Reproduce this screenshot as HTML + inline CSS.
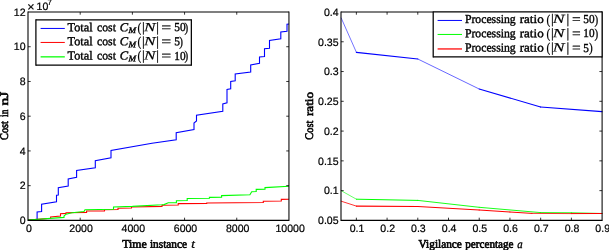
<!DOCTYPE html>
<html><head><meta charset="utf-8"><title>plot</title>
<style>html,body{margin:0;padding:0;background:#fff}svg{display:block}.t{font-family:"Liberation Sans",sans-serif;font-size:10px;fill:#000;stroke:#000;stroke-width:.2px}.s{font-family:"Liberation Serif",serif;font-size:11.6px;fill:#000;stroke:#000;stroke-width:.6px}.g{font-size:12.2px;stroke-width:.38px}text{text-rendering:geometricPrecision}.i{font-style:italic}.v{stroke-width:.35px}.n{stroke-width:.15px;font-size:12.5px}.p{font-size:13.5px;stroke-width:.25px}.e{font-size:14px;stroke-width:.2px}</style></head><body>
<svg width="609" height="250" viewBox="0 0 609 250">
<rect width="609" height="250" fill="#fff"/>
<polyline fill="none" stroke="#0000ff" stroke-width="1.1" stroke-linejoin="miter" points="28.0,220.0 37.1,220.0 37.1,212.0 41.6,211.6 41.6,204.3 56.5,201.7 56.5,195.3 58.3,195.0 58.3,187.6 68.2,186.0 68.2,179.0 76.6,177.3 76.6,170.5 95.3,167.8 95.3,160.8 111.0,157.8 111.0,150.5 152.0,143.3 176.2,139.8 176.2,132.8 194.0,129.5 194.0,123.0 196.5,121.0 196.5,115.3 222.8,111.3 222.8,104.0 227.0,102.8 227.0,89.5 230.7,88.8 230.7,81.5 235.2,80.8 235.2,74.0 250.7,72.0 250.7,65.0 259.5,63.3 259.5,57.0 264.5,56.5 264.5,48.8 269.5,48.3 269.5,40.5 280.8,38.8 280.8,32.0 287.0,31.3 287.0,24.3 289.0,24.0"/>
<polyline fill="none" stroke="#ff0000" stroke-width="1.1" stroke-linejoin="miter" points="28.0,220.0 50.6,218.2 50.6,216.9 60.5,216.0 60.5,213.8 66.0,213.4 66.0,212.8 86.6,212.4 86.6,211.0 104.5,210.9 104.5,209.7 118.0,209.5 118.0,208.2 131.5,208.0 131.5,207.0 162.0,206.4 162.0,205.2 178.2,205.0 178.2,203.6 206.7,203.5 206.7,203.0 235.5,202.7 263.3,202.5 263.3,201.2 281.3,201.0 281.3,199.4 289.0,199.2"/>
<polyline fill="none" stroke="#00ff00" stroke-width="1.1" stroke-linejoin="miter" points="28.0,220.0 64.0,217.4 64.0,216.0 66.0,214.2 72.0,212.8 84.0,211.5 85.0,209.7 113.5,209.2 113.5,207.0 132.4,206.4 162.0,204.8 164.0,204.6 168.3,202.8 176.4,202.6 176.4,200.7 187.2,200.5 187.2,198.5 209.4,198.3 209.4,197.4 221.6,197.2 221.6,195.6 249.9,194.7 251.7,191.7 256.2,191.5 256.2,189.4 265.0,189.2 265.0,187.6 289.0,186.2"/>
<line x1="28.00" y1="11.46" x2="28.00" y2="220.96" stroke="#000" stroke-width="1.08" /><line x1="288.95" y1="11.46" x2="288.95" y2="220.96" stroke="#000" stroke-width="1.05" /><line x1="28.00" y1="12.00" x2="288.95" y2="12.00" stroke="#000" stroke-width="1.08" /><line x1="28.00" y1="220.40" x2="288.95" y2="220.40" stroke="#000" stroke-width="1.12" />
<text class="t" transform="translate(28.9,231.8) scale(1.055,1.07)" text-anchor="middle">0</text>
<line x1="80.19" y1="220.40" x2="80.19" y2="217.70" stroke="#000" stroke-width="0.8" />
<line x1="80.19" y1="12.00" x2="80.19" y2="14.70" stroke="#000" stroke-width="0.8" />
<text class="t" transform="translate(81.1,231.8) scale(1.055,1.07)" text-anchor="middle">2000</text>
<line x1="132.38" y1="220.40" x2="132.38" y2="217.70" stroke="#000" stroke-width="0.8" />
<line x1="132.38" y1="12.00" x2="132.38" y2="14.70" stroke="#000" stroke-width="0.8" />
<text class="t" transform="translate(133.3,231.8) scale(1.055,1.07)" text-anchor="middle">4000</text>
<line x1="184.57" y1="220.40" x2="184.57" y2="217.70" stroke="#000" stroke-width="0.8" />
<line x1="184.57" y1="12.00" x2="184.57" y2="14.70" stroke="#000" stroke-width="0.8" />
<text class="t" transform="translate(185.5,231.8) scale(1.055,1.07)" text-anchor="middle">6000</text>
<line x1="236.76" y1="220.40" x2="236.76" y2="217.70" stroke="#000" stroke-width="0.8" />
<line x1="236.76" y1="12.00" x2="236.76" y2="14.70" stroke="#000" stroke-width="0.8" />
<text class="t" transform="translate(237.7,231.8) scale(1.055,1.07)" text-anchor="middle">8000</text>
<text class="t" transform="translate(290.1,231.8) scale(1.055,1.07)" text-anchor="middle">10000</text>
<text class="t" transform="translate(25.5,224.0) scale(1.055,1.07)" text-anchor="end">0</text>
<line x1="28.00" y1="185.67" x2="30.70" y2="185.67" stroke="#000" stroke-width="0.8" />
<line x1="288.95" y1="185.67" x2="286.25" y2="185.67" stroke="#000" stroke-width="0.8" />
<text class="t" transform="translate(25.5,189.3) scale(1.055,1.07)" text-anchor="end">2</text>
<line x1="28.00" y1="150.93" x2="30.70" y2="150.93" stroke="#000" stroke-width="0.8" />
<line x1="288.95" y1="150.93" x2="286.25" y2="150.93" stroke="#000" stroke-width="0.8" />
<text class="t" transform="translate(25.5,154.5) scale(1.055,1.07)" text-anchor="end">4</text>
<line x1="28.00" y1="116.20" x2="30.70" y2="116.20" stroke="#000" stroke-width="0.8" />
<line x1="288.95" y1="116.20" x2="286.25" y2="116.20" stroke="#000" stroke-width="0.8" />
<text class="t" transform="translate(25.5,119.8) scale(1.055,1.07)" text-anchor="end">6</text>
<line x1="28.00" y1="81.47" x2="30.70" y2="81.47" stroke="#000" stroke-width="0.8" />
<line x1="288.95" y1="81.47" x2="286.25" y2="81.47" stroke="#000" stroke-width="0.8" />
<text class="t" transform="translate(25.5,85.1) scale(1.055,1.07)" text-anchor="end">8</text>
<line x1="28.00" y1="46.73" x2="30.70" y2="46.73" stroke="#000" stroke-width="0.8" />
<line x1="288.95" y1="46.73" x2="286.25" y2="46.73" stroke="#000" stroke-width="0.8" />
<text class="t" transform="translate(25.5,50.3) scale(1.055,1.07)" text-anchor="end">10</text>
<text class="t" transform="translate(25.5,15.6) scale(1.055,1.07)" text-anchor="end">12</text>
<text class="t" x="27.3" y="10.7" style="font-size:12.5px">×</text>
<text class="t" transform="translate(36.6,9.7) scale(1.055,1.07)">10</text>
<text class="t" transform="translate(47.5,4.6) scale(1.055,1.07)" style="font-size:7.5px">7</text>
<text class="s" transform="translate(122.20,247.65) rotate(0.03)" textLength="24.6" lengthAdjust="spacingAndGlyphs" >Time</text>
<text class="s" transform="translate(149.90,247.65) rotate(0.03)" textLength="37.2" lengthAdjust="spacingAndGlyphs" >instance</text>
<text class="s i v" transform="translate(191.30,247.65) rotate(0.03)" textLength="3.6" lengthAdjust="spacingAndGlyphs" >t</text>
<text class="s" transform="translate(8.4,140.0) rotate(-90)" textLength="19.0" lengthAdjust="spacingAndGlyphs">Cost</text>
<text class="s" transform="translate(8.4,117.0) rotate(-90)" textLength="7.4" lengthAdjust="spacingAndGlyphs">in</text>
<text class="s" transform="translate(8.4,105.4) rotate(-90)" textLength="13.8" lengthAdjust="spacingAndGlyphs">nJ</text>
<rect x="36" y="20" width="155.3" height="45" fill="#fff"/>
<line x1="35.90" y1="19.27" x2="35.90" y2="65.72" stroke="#000" stroke-width="1.25" /><line x1="191.35" y1="19.27" x2="191.35" y2="65.72" stroke="#000" stroke-width="1.25" /><line x1="35.90" y1="19.90" x2="191.35" y2="19.90" stroke="#000" stroke-width="1.25" /><line x1="35.90" y1="65.10" x2="191.35" y2="65.10" stroke="#000" stroke-width="1.25" />
<line x1="40.60" y1="28.45" x2="64.80" y2="28.45" stroke="#0000ff" stroke-width="1.0" />
<text class="s g" transform="translate(67.60,31.20) rotate(0.03)" textLength="25.0" lengthAdjust="spacingAndGlyphs" >Total</text>
<text class="s g" transform="translate(97.00,31.20) rotate(0.03)" textLength="18.9" lengthAdjust="spacingAndGlyphs" >cost</text>
<text class="s g i" transform="translate(119.80,31.20) rotate(0.03)" textLength="8.4" lengthAdjust="spacingAndGlyphs" >C</text>
<text class="s g i" transform="translate(128.60,33.00) rotate(0.03)" textLength="7.6" lengthAdjust="spacingAndGlyphs" style="font-size:8.5px">M</text>
<text class="s g p" transform="translate(137.40,31.70) rotate(0.03)" textLength="3.7" lengthAdjust="spacingAndGlyphs" >(</text>
<text class="s g p" transform="translate(141.90,31.50) rotate(0.03)" >|</text>
<text class="s g i n" transform="translate(144.10,31.20) rotate(0.03)" textLength="11.6" lengthAdjust="spacingAndGlyphs" >N</text>
<text class="s g p" transform="translate(156.30,31.50) rotate(0.03)" >|</text>
<text class="s g e" transform="translate(161.30,31.90) rotate(0.03)" textLength="10.0" lengthAdjust="spacingAndGlyphs" >=</text>
<text class="s g" transform="translate(174.30,31.20) rotate(0.03)" textLength="11.3" lengthAdjust="spacingAndGlyphs" >50</text>
<text class="s g p" transform="translate(184.60,31.70) rotate(0.03)" textLength="3.7" lengthAdjust="spacingAndGlyphs" >)</text>
<line x1="40.60" y1="42.45" x2="64.80" y2="42.45" stroke="#ff0000" stroke-width="1.0" />
<text class="s g" transform="translate(67.60,45.35) rotate(0.03)" textLength="25.0" lengthAdjust="spacingAndGlyphs" >Total</text>
<text class="s g" transform="translate(97.00,45.35) rotate(0.03)" textLength="18.9" lengthAdjust="spacingAndGlyphs" >cost</text>
<text class="s g i" transform="translate(119.80,45.35) rotate(0.03)" textLength="8.4" lengthAdjust="spacingAndGlyphs" >C</text>
<text class="s g i" transform="translate(128.60,47.15) rotate(0.03)" textLength="7.6" lengthAdjust="spacingAndGlyphs" style="font-size:8.5px">M</text>
<text class="s g p" transform="translate(137.40,45.85) rotate(0.03)" textLength="3.7" lengthAdjust="spacingAndGlyphs" >(</text>
<text class="s g p" transform="translate(141.90,45.65) rotate(0.03)" >|</text>
<text class="s g i n" transform="translate(144.10,45.35) rotate(0.03)" textLength="11.6" lengthAdjust="spacingAndGlyphs" >N</text>
<text class="s g p" transform="translate(156.30,45.65) rotate(0.03)" >|</text>
<text class="s g e" transform="translate(161.30,46.05) rotate(0.03)" textLength="10.0" lengthAdjust="spacingAndGlyphs" >=</text>
<text class="s g" transform="translate(174.30,45.35) rotate(0.03)" textLength="5.7" lengthAdjust="spacingAndGlyphs" >5</text>
<text class="s g p" transform="translate(179.25,45.85) rotate(0.03)" textLength="3.7" lengthAdjust="spacingAndGlyphs" >)</text>
<line x1="40.60" y1="56.85" x2="64.80" y2="56.85" stroke="#00ff00" stroke-width="1.25" />
<text class="s g" transform="translate(67.60,59.50) rotate(0.03)" textLength="25.0" lengthAdjust="spacingAndGlyphs" >Total</text>
<text class="s g" transform="translate(97.00,59.50) rotate(0.03)" textLength="18.9" lengthAdjust="spacingAndGlyphs" >cost</text>
<text class="s g i" transform="translate(119.80,59.50) rotate(0.03)" textLength="8.4" lengthAdjust="spacingAndGlyphs" >C</text>
<text class="s g i" transform="translate(128.60,61.30) rotate(0.03)" textLength="7.6" lengthAdjust="spacingAndGlyphs" style="font-size:8.5px">M</text>
<text class="s g p" transform="translate(137.40,60.00) rotate(0.03)" textLength="3.7" lengthAdjust="spacingAndGlyphs" >(</text>
<text class="s g p" transform="translate(141.90,59.80) rotate(0.03)" >|</text>
<text class="s g i n" transform="translate(144.10,59.50) rotate(0.03)" textLength="11.6" lengthAdjust="spacingAndGlyphs" >N</text>
<text class="s g p" transform="translate(156.30,59.80) rotate(0.03)" >|</text>
<text class="s g e" transform="translate(161.30,60.20) rotate(0.03)" textLength="10.0" lengthAdjust="spacingAndGlyphs" >=</text>
<text class="s g" transform="translate(174.30,59.50) rotate(0.03)" textLength="11.3" lengthAdjust="spacingAndGlyphs" >10</text>
<text class="s g p" transform="translate(184.60,60.00) rotate(0.03)" textLength="3.7" lengthAdjust="spacingAndGlyphs" >)</text>
<line x1="341.2" y1="18.0" x2="356.4" y2="52.3" stroke="#0000ff" stroke-width="0.55" stroke-linecap="round"/>
<line x1="356.4" y1="52.3" x2="417.8" y2="59.0" stroke="#0000ff" stroke-width="1.2" stroke-linecap="round"/>
<line x1="417.8" y1="59.0" x2="479.2" y2="89.0" stroke="#0000ff" stroke-width="0.6" stroke-linecap="round"/>
<line x1="479.2" y1="89.0" x2="540.6" y2="107.0" stroke="#0000ff" stroke-width="1.1" stroke-linecap="round"/>
<line x1="540.6" y1="107.0" x2="602.0" y2="111.6" stroke="#0000ff" stroke-width="1.2" stroke-linecap="round"/>
<line x1="341.2" y1="190.7" x2="356.4" y2="199.2" stroke="#00ff00" stroke-width="0.6" stroke-linecap="round"/>
<line x1="356.4" y1="199.2" x2="417.8" y2="200.4" stroke="#00ff00" stroke-width="1.0" stroke-linecap="round"/>
<line x1="417.8" y1="200.4" x2="479.2" y2="207.3" stroke="#00ff00" stroke-width="0.9" stroke-linecap="round"/>
<line x1="479.2" y1="207.3" x2="540.6" y2="212.6" stroke="#00ff00" stroke-width="0.9" stroke-linecap="round"/>
<line x1="540.6" y1="212.6" x2="571.3" y2="212.8" stroke="#00ff00" stroke-width="0.9" stroke-linecap="round"/>
<line x1="571.3" y1="212.8" x2="602.0" y2="213.5" stroke="#00ff00" stroke-width="0.9" stroke-linecap="round"/>
<line x1="341.2" y1="201.2" x2="356.4" y2="206.1" stroke="#ff0000" stroke-width="0.8" stroke-linecap="round"/>
<line x1="356.4" y1="206.1" x2="417.8" y2="206.5" stroke="#ff0000" stroke-width="1.1" stroke-linecap="round"/>
<line x1="417.8" y1="206.5" x2="479.2" y2="210.0" stroke="#ff0000" stroke-width="1.1" stroke-linecap="round"/>
<line x1="479.2" y1="210.0" x2="509.9" y2="212.0" stroke="#ff0000" stroke-width="1.1" stroke-linecap="round"/>
<line x1="509.9" y1="212.0" x2="532.0" y2="213.4" stroke="#ff0000" stroke-width="1.0" stroke-linecap="round"/>
<line x1="532.0" y1="213.4" x2="571.3" y2="213.6" stroke="#ff0000" stroke-width="0.8" stroke-linecap="round"/>
<line x1="571.3" y1="213.6" x2="602.0" y2="213.5" stroke="#ff0000" stroke-width="1.0" stroke-linecap="round"/>
<line x1="341.00" y1="11.46" x2="341.00" y2="220.96" stroke="#000" stroke-width="1.08" /><line x1="602.10" y1="11.46" x2="602.10" y2="220.96" stroke="#000" stroke-width="1.05" /><line x1="341.00" y1="12.00" x2="602.10" y2="12.00" stroke="#000" stroke-width="1.08" /><line x1="341.00" y1="220.40" x2="602.10" y2="220.40" stroke="#000" stroke-width="1.12" />
<line x1="356.36" y1="220.40" x2="356.36" y2="217.70" stroke="#000" stroke-width="0.8" />
<line x1="356.36" y1="12.00" x2="356.36" y2="14.70" stroke="#000" stroke-width="0.8" />
<text class="t" transform="translate(357.0,231.8) scale(1.055,1.07)" text-anchor="middle">0.1</text>
<line x1="387.08" y1="220.40" x2="387.08" y2="217.70" stroke="#000" stroke-width="0.8" />
<line x1="387.08" y1="12.00" x2="387.08" y2="14.70" stroke="#000" stroke-width="0.8" />
<text class="t" transform="translate(387.7,231.8) scale(1.055,1.07)" text-anchor="middle">0.2</text>
<line x1="417.79" y1="220.40" x2="417.79" y2="217.70" stroke="#000" stroke-width="0.8" />
<line x1="417.79" y1="12.00" x2="417.79" y2="14.70" stroke="#000" stroke-width="0.8" />
<text class="t" transform="translate(418.4,231.8) scale(1.055,1.07)" text-anchor="middle">0.3</text>
<line x1="448.51" y1="220.40" x2="448.51" y2="217.70" stroke="#000" stroke-width="0.8" />
<line x1="448.51" y1="12.00" x2="448.51" y2="14.70" stroke="#000" stroke-width="0.8" />
<text class="t" transform="translate(449.1,231.8) scale(1.055,1.07)" text-anchor="middle">0.4</text>
<line x1="479.23" y1="220.40" x2="479.23" y2="217.70" stroke="#000" stroke-width="0.8" />
<line x1="479.23" y1="12.00" x2="479.23" y2="14.70" stroke="#000" stroke-width="0.8" />
<text class="t" transform="translate(479.8,231.8) scale(1.055,1.07)" text-anchor="middle">0.5</text>
<line x1="509.95" y1="220.40" x2="509.95" y2="217.70" stroke="#000" stroke-width="0.8" />
<line x1="509.95" y1="12.00" x2="509.95" y2="14.70" stroke="#000" stroke-width="0.8" />
<text class="t" transform="translate(510.5,231.8) scale(1.055,1.07)" text-anchor="middle">0.6</text>
<line x1="540.66" y1="220.40" x2="540.66" y2="217.70" stroke="#000" stroke-width="0.8" />
<line x1="540.66" y1="12.00" x2="540.66" y2="14.70" stroke="#000" stroke-width="0.8" />
<text class="t" transform="translate(541.3,231.8) scale(1.055,1.07)" text-anchor="middle">0.7</text>
<line x1="571.38" y1="220.40" x2="571.38" y2="217.70" stroke="#000" stroke-width="0.8" />
<line x1="571.38" y1="12.00" x2="571.38" y2="14.70" stroke="#000" stroke-width="0.8" />
<text class="t" transform="translate(572.0,231.8) scale(1.055,1.07)" text-anchor="middle">0.8</text>
<text class="t" transform="translate(602.7,231.8) scale(1.055,1.07)" text-anchor="middle">0.9</text>
<text class="t" transform="translate(338.6,224.1) scale(1.055,1.07)" text-anchor="end">0.05</text>
<line x1="341.00" y1="190.63" x2="343.70" y2="190.63" stroke="#000" stroke-width="0.8" />
<line x1="602.10" y1="190.63" x2="599.40" y2="190.63" stroke="#000" stroke-width="0.8" />
<text class="t" transform="translate(338.6,194.3) scale(1.055,1.07)" text-anchor="end">0.1</text>
<line x1="341.00" y1="160.86" x2="343.70" y2="160.86" stroke="#000" stroke-width="0.8" />
<line x1="602.10" y1="160.86" x2="599.40" y2="160.86" stroke="#000" stroke-width="0.8" />
<text class="t" transform="translate(338.6,164.6) scale(1.055,1.07)" text-anchor="end">0.15</text>
<line x1="341.00" y1="131.09" x2="343.70" y2="131.09" stroke="#000" stroke-width="0.8" />
<line x1="602.10" y1="131.09" x2="599.40" y2="131.09" stroke="#000" stroke-width="0.8" />
<text class="t" transform="translate(338.6,134.8) scale(1.055,1.07)" text-anchor="end">0.2</text>
<line x1="341.00" y1="101.31" x2="343.70" y2="101.31" stroke="#000" stroke-width="0.8" />
<line x1="602.10" y1="101.31" x2="599.40" y2="101.31" stroke="#000" stroke-width="0.8" />
<text class="t" transform="translate(338.6,105.0) scale(1.055,1.07)" text-anchor="end">0.25</text>
<line x1="341.00" y1="71.54" x2="343.70" y2="71.54" stroke="#000" stroke-width="0.8" />
<line x1="602.10" y1="71.54" x2="599.40" y2="71.54" stroke="#000" stroke-width="0.8" />
<text class="t" transform="translate(338.6,75.2) scale(1.055,1.07)" text-anchor="end">0.3</text>
<line x1="341.00" y1="41.77" x2="343.70" y2="41.77" stroke="#000" stroke-width="0.8" />
<line x1="602.10" y1="41.77" x2="599.40" y2="41.77" stroke="#000" stroke-width="0.8" />
<text class="t" transform="translate(338.6,45.5) scale(1.055,1.07)" text-anchor="end">0.35</text>
<text class="t" transform="translate(338.6,15.7) scale(1.055,1.07)" text-anchor="end">0.4</text>
<text class="s" transform="translate(418.60,247.65) rotate(0.03)" textLength="43.3" lengthAdjust="spacingAndGlyphs" >Vigilance</text>
<text class="s" transform="translate(465.30,247.65) rotate(0.03)" textLength="48.2" lengthAdjust="spacingAndGlyphs" >percentage</text>
<text class="s i v" transform="translate(517.30,247.65) rotate(0.03)" textLength="5.4" lengthAdjust="spacingAndGlyphs" >a</text>
<text class="s" transform="translate(312.6,139.7) rotate(-90)" textLength="19.0" lengthAdjust="spacingAndGlyphs">Cost</text>
<text class="s" transform="translate(312.6,116.0) rotate(-90)" textLength="24.0" lengthAdjust="spacingAndGlyphs">ratio</text>
<rect x="433" y="12.0" width="169.10000000000002" height="45.0" fill="#fff"/>
<line x1="433.20" y1="11.46" x2="433.20" y2="57.52" stroke="#000" stroke-width="1.25" /><line x1="602.10" y1="11.46" x2="602.10" y2="57.52" stroke="#000" stroke-width="1.2" /><line x1="433.20" y1="12.00" x2="602.10" y2="12.00" stroke="#000" stroke-width="1.08" /><line x1="433.20" y1="56.90" x2="602.10" y2="56.90" stroke="#000" stroke-width="1.25" />
<line x1="437.60" y1="20.45" x2="462.00" y2="20.45" stroke="#0000ff" stroke-width="1.0" />
<text class="s g" transform="translate(464.90,23.00) rotate(0.03)" textLength="50.8" lengthAdjust="spacingAndGlyphs" >Processing</text>
<text class="s g" transform="translate(519.70,23.00) rotate(0.03)" textLength="24.0" lengthAdjust="spacingAndGlyphs" >ratio</text>
<text class="s g p" transform="translate(546.60,23.50) rotate(0.03)" textLength="3.7" lengthAdjust="spacingAndGlyphs" >(</text>
<text class="s g p" transform="translate(551.10,23.30) rotate(0.03)" >|</text>
<text class="s g i n" transform="translate(552.80,23.00) rotate(0.03)" textLength="11.8" lengthAdjust="spacingAndGlyphs" >N</text>
<text class="s g p" transform="translate(566.40,23.30) rotate(0.03)" >|</text>
<text class="s g e" transform="translate(572.00,23.70) rotate(0.03)" textLength="8.7" lengthAdjust="spacingAndGlyphs" >=</text>
<text class="s g" transform="translate(583.30,23.00) rotate(0.03)" textLength="11.2" lengthAdjust="spacingAndGlyphs" >50</text>
<text class="s g p" transform="translate(594.40,23.50) rotate(0.03)" textLength="3.7" lengthAdjust="spacingAndGlyphs" >)</text>
<line x1="437.60" y1="34.45" x2="462.00" y2="34.45" stroke="#00ff00" stroke-width="1.0" />
<text class="s g" transform="translate(464.90,37.25) rotate(0.03)" textLength="50.8" lengthAdjust="spacingAndGlyphs" >Processing</text>
<text class="s g" transform="translate(519.70,37.25) rotate(0.03)" textLength="24.0" lengthAdjust="spacingAndGlyphs" >ratio</text>
<text class="s g p" transform="translate(546.60,37.75) rotate(0.03)" textLength="3.7" lengthAdjust="spacingAndGlyphs" >(</text>
<text class="s g p" transform="translate(551.10,37.55) rotate(0.03)" >|</text>
<text class="s g i n" transform="translate(552.80,37.25) rotate(0.03)" textLength="11.8" lengthAdjust="spacingAndGlyphs" >N</text>
<text class="s g p" transform="translate(566.40,37.55) rotate(0.03)" >|</text>
<text class="s g e" transform="translate(572.00,37.95) rotate(0.03)" textLength="8.7" lengthAdjust="spacingAndGlyphs" >=</text>
<text class="s g" transform="translate(583.30,37.25) rotate(0.03)" textLength="11.2" lengthAdjust="spacingAndGlyphs" >10</text>
<text class="s g p" transform="translate(594.40,37.75) rotate(0.03)" textLength="3.7" lengthAdjust="spacingAndGlyphs" >)</text>
<line x1="437.60" y1="48.95" x2="462.00" y2="48.95" stroke="#ff0000" stroke-width="1.25" />
<text class="s g" transform="translate(464.90,51.50) rotate(0.03)" textLength="50.8" lengthAdjust="spacingAndGlyphs" >Processing</text>
<text class="s g" transform="translate(519.70,51.50) rotate(0.03)" textLength="24.0" lengthAdjust="spacingAndGlyphs" >ratio</text>
<text class="s g p" transform="translate(546.60,52.00) rotate(0.03)" textLength="3.7" lengthAdjust="spacingAndGlyphs" >(</text>
<text class="s g p" transform="translate(551.10,51.80) rotate(0.03)" >|</text>
<text class="s g i n" transform="translate(552.80,51.50) rotate(0.03)" textLength="11.8" lengthAdjust="spacingAndGlyphs" >N</text>
<text class="s g p" transform="translate(566.40,51.80) rotate(0.03)" >|</text>
<text class="s g e" transform="translate(572.00,52.20) rotate(0.03)" textLength="8.7" lengthAdjust="spacingAndGlyphs" >=</text>
<text class="s g" transform="translate(583.30,51.50) rotate(0.03)" textLength="5.6" lengthAdjust="spacingAndGlyphs" >5</text>
<text class="s g p" transform="translate(589.10,52.00) rotate(0.03)" textLength="3.7" lengthAdjust="spacingAndGlyphs" >)</text>
</svg></body></html>
